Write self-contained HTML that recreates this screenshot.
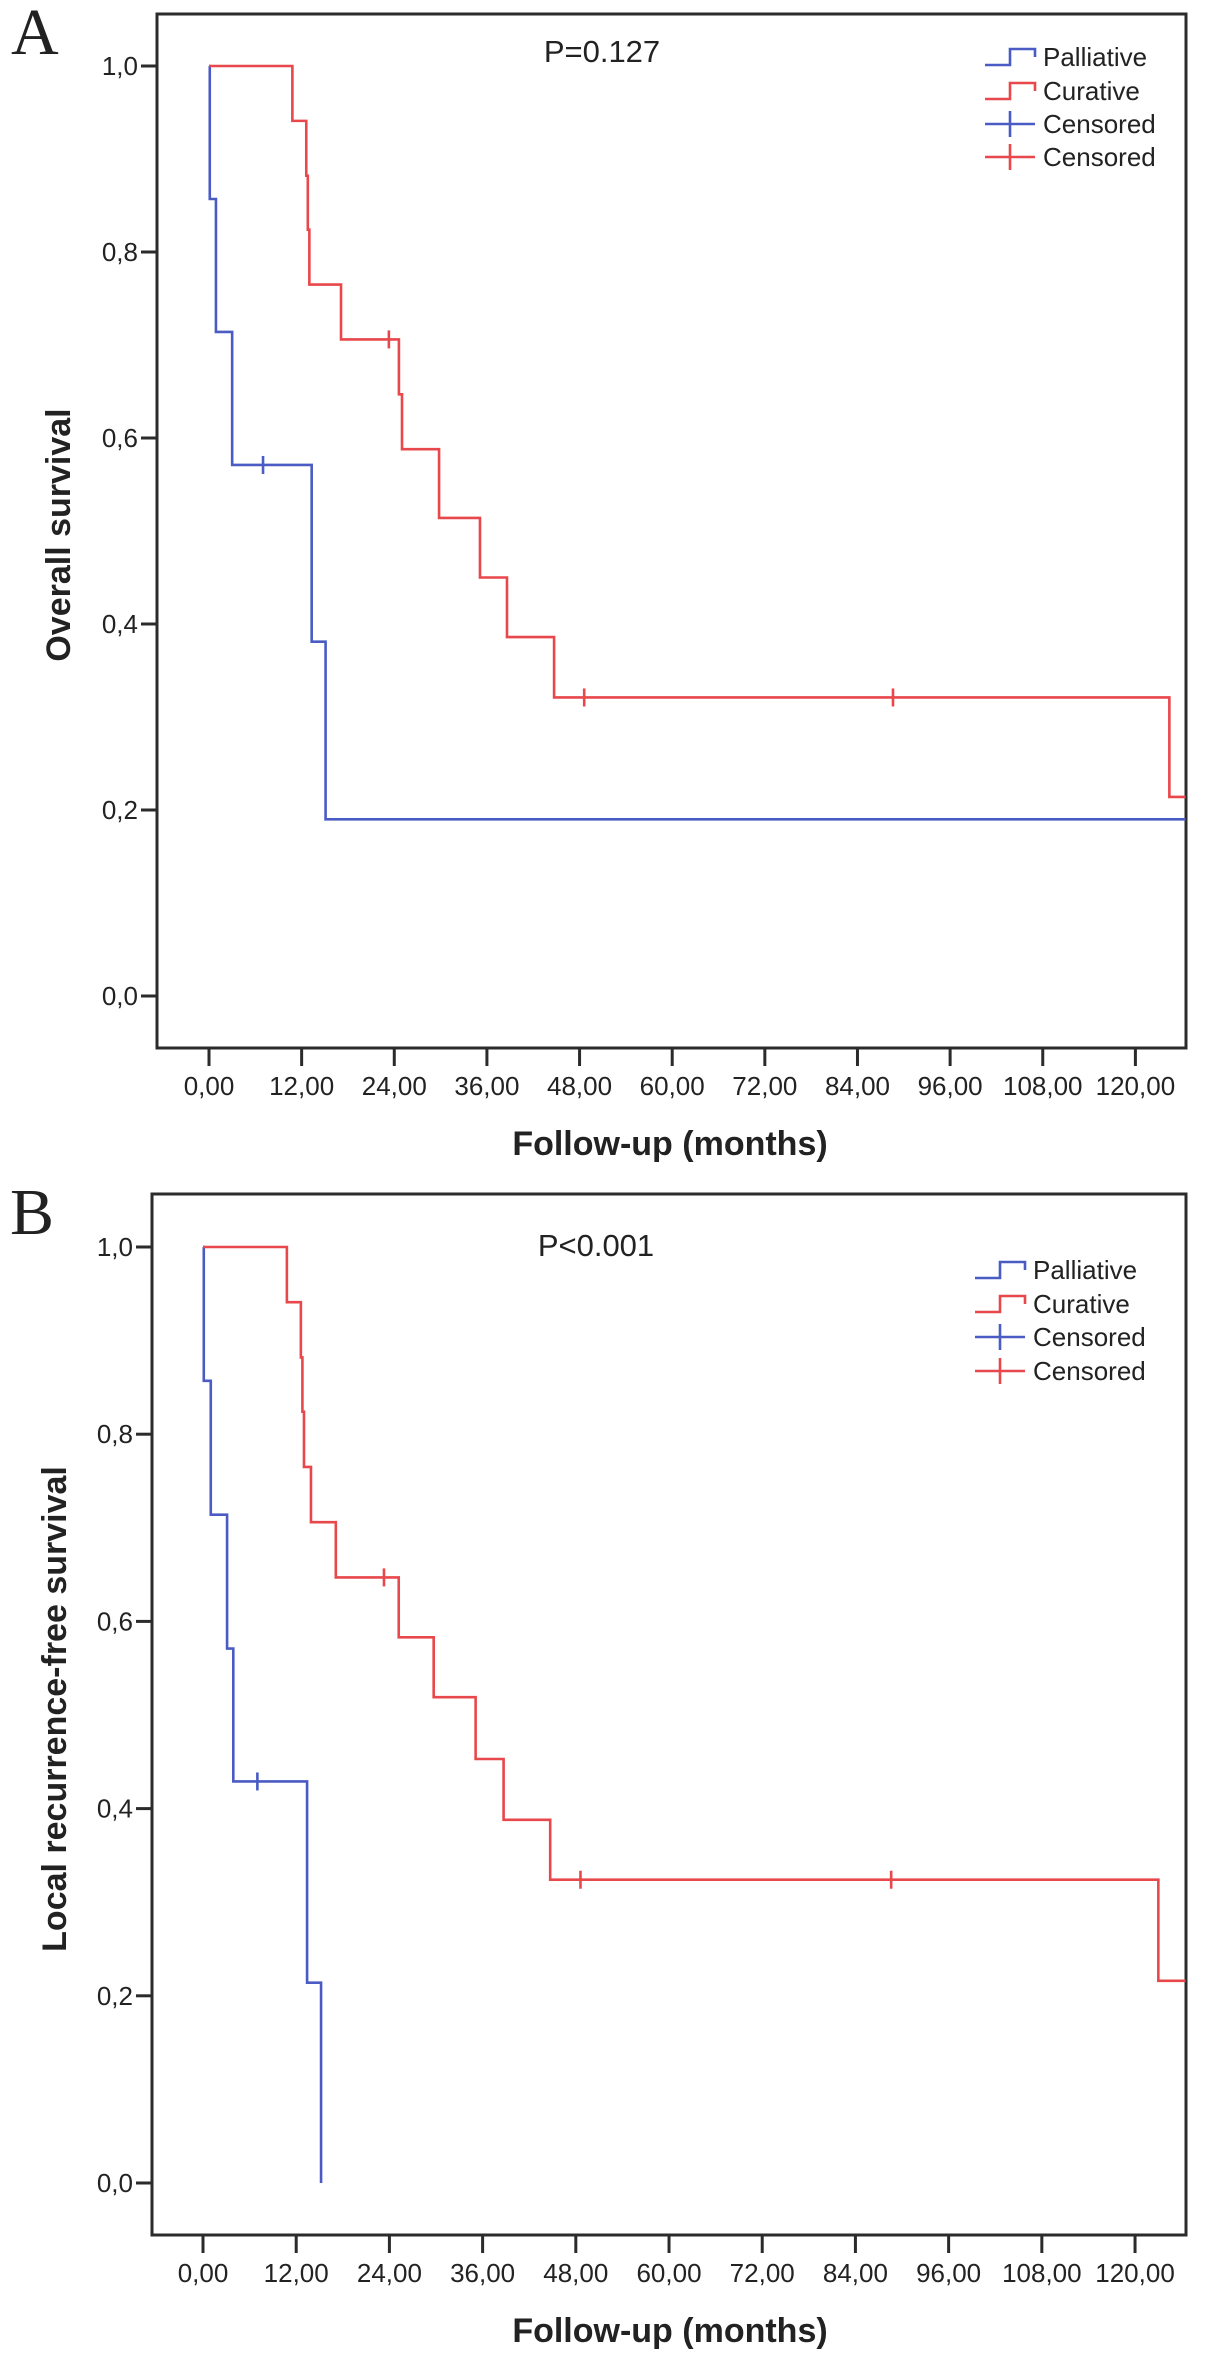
<!DOCTYPE html>
<html><head><meta charset="utf-8">
<style>
html,body{margin:0;padding:0;background:#fff;}
svg text{font-family:"Liberation Sans",Arial,sans-serif;fill:#222;}
</style></head>
<body>
<svg id="fig" width="1205" height="2366" viewBox="0 0 1205 2366" xmlns="http://www.w3.org/2000/svg">
<g id="panelA"></g>
<g id="panelB"></g>
</svg>
<script>
// ---- Panel A data (Overall survival) ----
const xTickLabels = ["0,00","12,00","24,00","36,00","48,00","60,00","72,00","84,00","96,00","108,00","120,00"];
const xTickValues = [0,12,24,36,48,60,72,84,96,108,120];
const yTickLabels = ["0,0","0,2","0,4","0,6","0,8","1,0"];
const yTickValues = [0,0.2,0.4,0.6,0.8,1.0];

const aPallTimes = [0.1, 0.9, 3.0, 13.3, 15.1];
const aPallSurv  = [0.857, 0.714, 0.571, 0.381, 0.190];
const aPallCensor = [7.0];
const aPallEnd = 126.5;

const aCurTimes = [10.8, 12.6, 12.8, 13.0, 17.1, 24.6, 25.0, 29.8, 35.1, 38.6, 44.7, 124.4];
const aCurSurv  = [0.941, 0.882, 0.824, 0.765, 0.706, 0.647, 0.588, 0.514, 0.450, 0.386, 0.321, 0.214];
const aCurCensor = [23.3, 48.6, 88.6];
const aCurEnd = 126.5;

// ---- Panel B data (Local recurrence-free survival) ----
const bPallTimes = [0.1, 1.0, 3.1, 3.9, 13.4, 15.2];
const bPallSurv  = [0.857, 0.714, 0.571, 0.429, 0.214, 0.0];
const bPallCensor = [7.0];
const bPallEnd = 15.2;

const bCurTimes = [10.8, 12.6, 12.8, 13.0, 13.9, 17.1, 25.2, 29.7, 35.1, 38.7, 44.7, 123.0];
const bCurSurv  = [0.941, 0.882, 0.824, 0.765, 0.706, 0.647, 0.583, 0.519, 0.453, 0.388, 0.324, 0.216];
const bCurCensor = [23.3, 48.6, 88.6];
const bCurEnd = 126.5;

const NS = "http://www.w3.org/2000/svg";
const BLUE = "#4a5cc4", RED = "#e8474b", DARK = "#2b2b2b";

function mk(parent, tag, attrs, text){
  const e = document.createElementNS(NS, tag);
  for (const k in attrs) e.setAttribute(k, attrs[k]);
  if (text !== undefined) e.textContent = text;
  parent.appendChild(e);
  return e;
}

function stepValue(times, surv, t){
  let v = 1.0;
  for (let i=0;i<times.length;i++){ if (times[i] <= t) v = surv[i]; }
  return v;
}

function drawPanel(g, cfg){
  const X = m => cfg.x0 + m*cfg.xs;
  const Y = v => cfg.y0 - v*cfg.ys;

  // letter
  const letter = mk(g,"text",{x:cfg.letterX,y:cfg.letterY,"font-size":66,style:'font-family:"Liberation Serif",serif'},cfg.letter);
  
  

  // box
  const box = mk(g,"rect",{x:cfg.bx1,y:cfg.by1,width:cfg.bx2-cfg.bx1,height:cfg.by2-cfg.by1,fill:"none",stroke:DARK,"stroke-width":3});
  
  

  // y ticks
  yTickValues.forEach((v,i)=>{
    const yy = Y(v);
    const t = mk(g,"line",{x1:cfg.bx1-16,x2:cfg.bx1,y1:yy,y2:yy,stroke:DARK,"stroke-width":3});
    
    
    const l = mk(g,"text",{x:cfg.bx1-19,y:yy+9,"font-size":26,"text-anchor":"end"},yTickLabels[i]);
    
    
  });
  // x ticks
  xTickValues.forEach((m,i)=>{
    const xx = X(m);
    const t = mk(g,"line",{x1:xx,x2:xx,y1:cfg.by2,y2:cfg.by2+18,stroke:DARK,"stroke-width":3});
    
    
    const l = mk(g,"text",{x:xx,y:cfg.by2+47,"font-size":26,"text-anchor":"middle"},xTickLabels[i]);
    
    
  });

  // titles
  const xt = mk(g,"text",{x:670,y:cfg.xTitleY,"font-size":34,"font-weight":"bold","text-anchor":"middle"},"Follow-up (months)");
  
  
  const yt = mk(g,"text",{x:0,y:0,"font-size":34,"font-weight":"bold","text-anchor":"middle",transform:`translate(${cfg.yTitleX},${cfg.yTitleY}) rotate(-90)`},cfg.yTitle);
  
  

  const pt = mk(g,"text",{x:cfg.pX,y:cfg.pY,"font-size":31,"text-anchor":"middle"},cfg.pText);
  
  

  // curves
  function curve(times, surv, end, color, name){
    let d = `M${X(0)},${Y(1)}`;
    let cur = 1.0;
    for (let i=0;i<times.length;i++){
      d += ` H${X(times[i])} V${Y(surv[i])}`;
      cur = surv[i];
    }
    d += ` H${X(end)}`;
    const p = mk(g,"path",{d:d,fill:"none",stroke:color,"stroke-width":2.6});
    
    
  }
  function censors(list, times, surv, color, name){
    list.forEach(t=>{
      const v = stepValue(times, surv, t);
      const c = mk(g,"line",{x1:X(t),x2:X(t),y1:Y(v)-9,y2:Y(v)+9,stroke:color,"stroke-width":2.6});
      
      
    });
  }
  curve(cfg.pT, cfg.pS, cfg.pEnd, BLUE, 'palliative-curve');
  curve(cfg.cT, cfg.cS, cfg.cEnd, RED, 'curative-curve');
  censors(cfg.pC, cfg.pT, cfg.pS, BLUE, 'palliative-censor-mark');
  censors(cfg.cC, cfg.cT, cfg.cS, RED, 'curative-censor-mark');

  // legend
  const lg = mk(g,"g",{});
  
  
  const lx = cfg.legX, rows = cfg.legRows;
  const items = [["Palliative",BLUE,"step"],["Curative",RED,"step"],["Censored",BLUE,"cross"],["Censored",RED,"cross"]];
  items.forEach((it,i)=>{
    const yy = rows[i];
    let sym;
    if (it[2]==="step"){
      sym = mk(lg,"path",{d:`M${lx-58},${yy+8} H${lx-33} V${yy-8} H${lx-8} V${yy}`,fill:"none",stroke:it[1],"stroke-width":2.6});
    } else {
      sym = mk(lg,"path",{d:`M${lx-58},${yy} H${lx-8} M${lx-33},${yy-13} V${yy+13}`,fill:"none",stroke:it[1],"stroke-width":2.6});
    }
    
    
    const tx = mk(lg,"text",{x:lx,y:yy+9,"font-size":26},it[0]);
    
    
  });
}

drawPanel(document.getElementById('panelA'),{
  letter:"A", letterX:11, letterY:54,
  x0:209, xs:7.72, y0:996, ys:930,
  bx1:157, by1:14, bx2:1186, by2:1048,
  xTitleY:1155, yTitle:"Overall survival", yTitleX:70, yTitleY:535,
  pText:"P=0.127", pX:602, pY:62,
  pT:aPallTimes, pS:aPallSurv, pC:aPallCensor, pEnd:aPallEnd,
  cT:aCurTimes, cS:aCurSurv, cC:aCurCensor, cEnd:aCurEnd,
  legX:1043, legRows:[57,91,124,157]
});
drawPanel(document.getElementById('panelB'),{
  letter:"B", letterX:10, letterY:1234,
  x0:203, xs:7.767, y0:2183, ys:936,
  bx1:152, by1:1194, bx2:1186, by2:2235,
  xTitleY:2342, yTitle:"Local recurrence-free survival", yTitleX:66, yTitleY:1709,
  pText:"P<0.001", pX:596, pY:1256,
  pT:bPallTimes, pS:bPallSurv, pC:bPallCensor, pEnd:bPallEnd,
  cT:bCurTimes, cS:bCurSurv, cC:bCurCensor, cEnd:bCurEnd,
  legX:1033, legRows:[1270,1304,1337,1371]
});
</script>
</body></html>
